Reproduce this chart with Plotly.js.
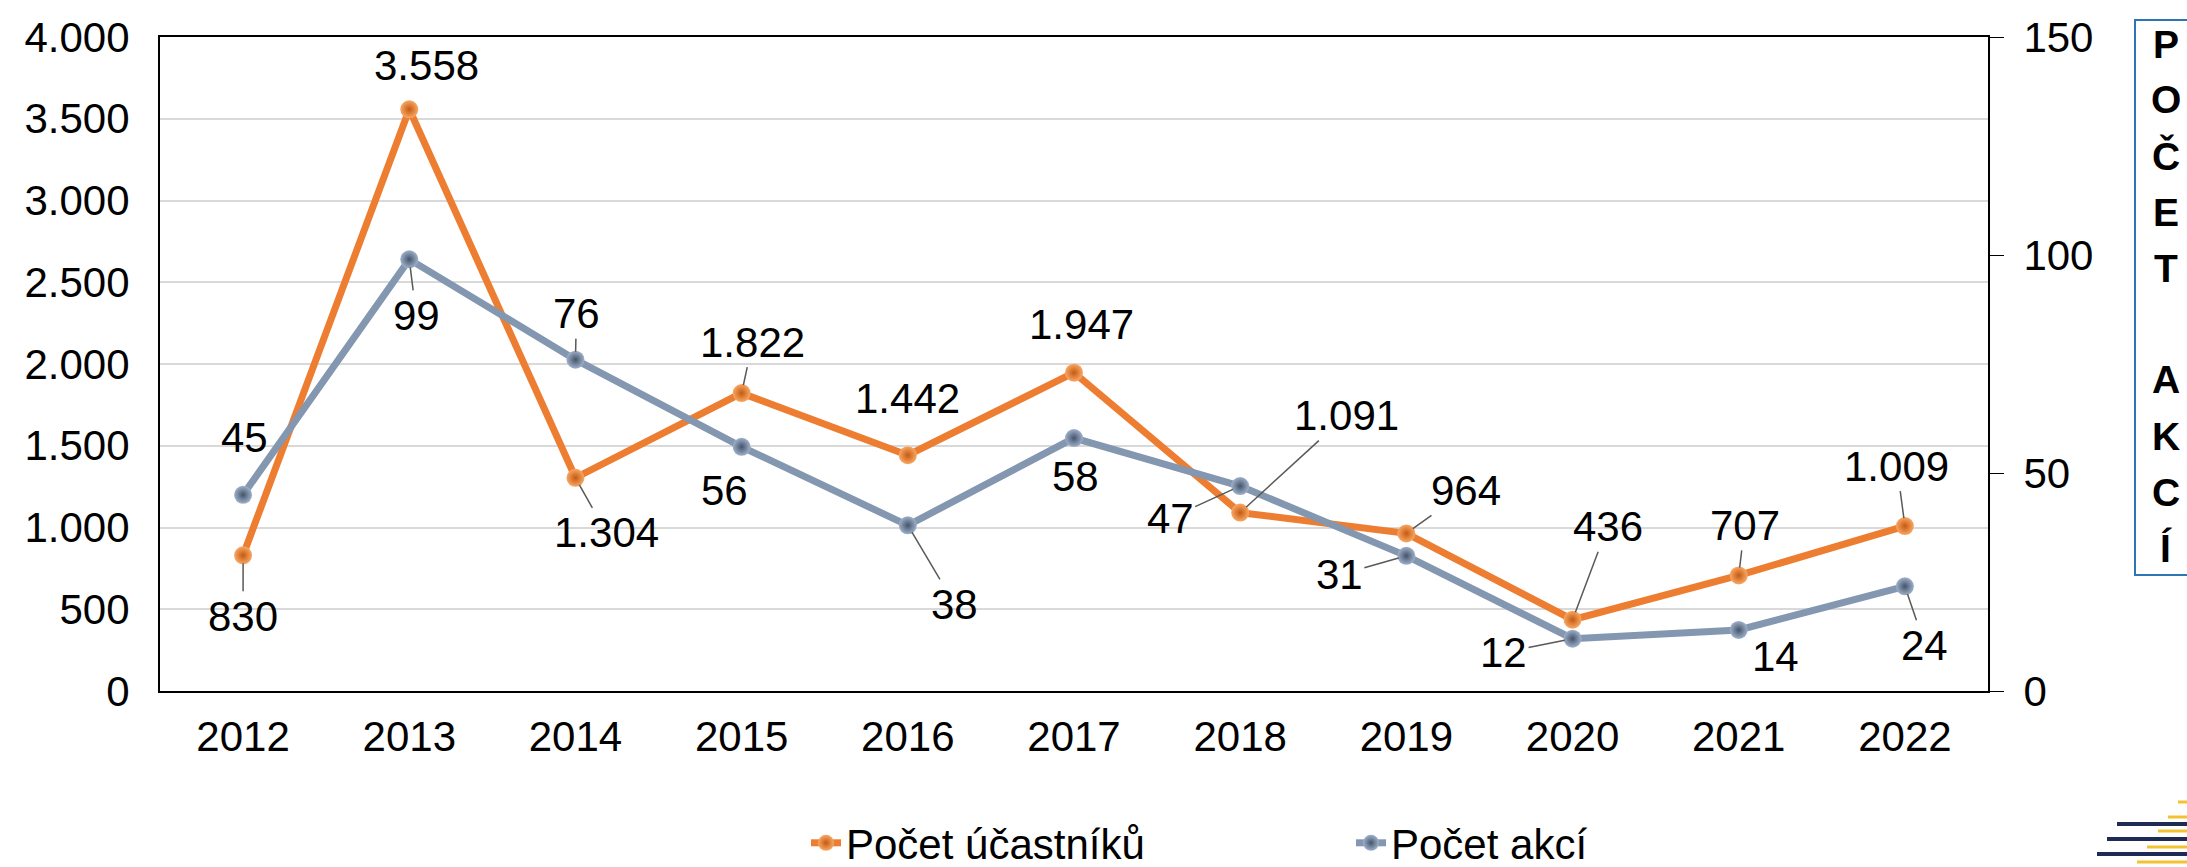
<!DOCTYPE html>
<html>
<head>
<meta charset="utf-8">
<script src="https://cdn.plot.ly/plotly-3.0.1.min.js"></script>
<style>
  html, body { margin: 0; padding: 0; background: #fff; }
  #chart { width: 2187px; height: 867px; }
</style>
</head>
<body>
<div id="chart"></div>
<script>
// data
const years = ['2012', '2013', '2014', '2015', '2016', '2017', '2018', '2019', '2020', '2021', '2022'];
const ucastnici = [830, 3558, 1304, 1822, 1442, 1947, 1091, 964, 436, 707, 1009];
const akce = [45, 99, 76, 56, 38, 58, 47, 31, 12, 14, 24];
const boxLetters = ['P', 'O', 'Č', 'E', 'T', '', 'A', 'K', 'C', 'Í'];

// label offsets (px) from each point, and whether a leader line is drawn
const ucastDx = [0, 17, 31, 11, 0, 7, 106, 60, 35, 6, -8];
const ucastDy = [61, -44, 55, -51, -57, -48, -97, -43, -93, -50, -60];
const ucastLeader = [1, 0, 1, 1, 0, 0, 1, 1, 1, 1, 1];
const akceDx = [1, 7, 1, -17, 47, 1, -70, -67, -69, 37, 20];
const akceDy = [-57, 56, -46, 44, 79, 38, 32, 19, 14, 27, 59];
const akceLeader = [0, 1, 1, 0, 1, 0, 1, 1, 1, 0, 1];

const FONT = 'Liberation Sans, Arial, sans-serif';
const M = {l: 160, r: 199, t: 37, b: 176, autoexpand: false};
const W = 2187, H = 867;
const plotW = W - M.l - M.r, plotH = H - M.t - M.b;
function fx(px){ return (px - M.l) / plotW; }
function fy(py){ return (H - M.b - py) / plotH; }

function fmt(v){
    return v.toString().replace(/\B(?=(\d{3})+(?!\d))/g, '.');
}

const data = [
    {
        x: years, y: ucastnici, name: 'Počet účastníků', type: 'scatter', mode: 'lines+markers',
        line: {color: '#ED7D31', width: 7},
        marker: {size: 18, color: '#F9A865', gradient: {type: 'radial', color: '#C55A11'}}
    },
    {
        x: years, y: akce, name: 'Počet akcí', type: 'scatter', mode: 'lines+markers', yaxis: 'y2',
        line: {color: '#8497B0', width: 7},
        marker: {size: 18, color: '#9FB1CB', gradient: {type: 'radial', color: '#44546A'}}
    }
];

let annotations = [];
function addLabels(vals, yref, dx, dy, leader){
    vals.forEach((v, i) => {
        // category index, a numeric string would be read as an index anyway
        let a = {
            x: i, y: v, xref: 'x', yref: yref, text: fmt(v),
            font: {family: FONT, size: 42, color: '#000'}
        };
        if(leader[i]){
            a.showarrow = true;
            a.arrowhead = 0;
            a.arrowwidth = 1.5;
            a.arrowcolor = '#595959';
            a.standoff = 8;
            a.ax = dx[i];
            a.ay = dy[i];
        }else{
            a.showarrow = false;
            a.xshift = dx[i];
            a.yshift = -dy[i];
        }
        annotations.push(a);
    });
}
addLabels(ucastnici, 'y', ucastDx, ucastDy, ucastLeader);
addLabels(akce, 'y2', akceDx, akceDy, akceLeader);

// vertical "POČET AKCÍ" box on the right
boxLetters.forEach((c, i) => {
    if(!c) return;
    annotations.push({
        x: fx(2166), y: fy(44 + i * 56), xref: 'paper', yref: 'paper',
        xanchor: 'center', yanchor: 'middle',
        text: '<b>' + c + '</b>', showarrow: false,
        font: {family: FONT, size: 39, color: '#000'}
    });
});

let shapes = [{
    type: 'rect', xref: 'paper', yref: 'paper',
    x0: fx(2135), x1: fx(2230), y0: fy(575), y1: fy(20),
    line: {color: '#2E75B6', width: 2}
}];

// corner logo stripes
const stripes = [
    [2178, 802, '#F2C230'], [2168, 817, '#F2C230'], [2117, 824, '#1F2A55'], [2158, 831, '#F2C230'],
    [2107, 839, '#1F2A55'], [2147, 847, '#F2C230'], [2097, 854, '#1F2A55'], [2137, 862, '#F2C230']
];
stripes.forEach(s => {
    shapes.push({
        type: 'line', xref: 'paper', yref: 'paper',
        x0: fx(s[0]), x1: fx(2190), y0: fy(s[1]), y1: fy(s[1]),
        line: {color: s[2], width: s[2] == '#1F2A55' ? 4 : 3}
    });
});

const layout = {
    width: W, height: H,
    margin: M,
    paper_bgcolor: '#fff', plot_bgcolor: '#fff',
    separators: ',.',
    font: {family: FONT, size: 42, color: '#000'},
    showlegend: true,
    legend: {
        orientation: 'h', x: fx(806), xanchor: 'left', y: fy(843), yanchor: 'middle',
        font: {family: FONT, size: 42, color: '#000'},
        entrywidth: 500, entrywidthmode: 'pixels', traceorder: 'normal'
    },
    xaxis: {
        type: 'category', range: [-0.5, years.length - 0.5], autorange: false,
        showgrid: false, showline: true, linecolor: '#000', linewidth: 2,
        mirror: true, ticks: '', ticklabelstandoff: 8,
        tickfont: {family: FONT, size: 42, color: '#000'}
    },
    yaxis: {
        range: [0, 4000], dtick: 500, tickformat: ',d', showgrid: true, gridcolor: '#D9D9D9', gridwidth: 2,
        showline: true, linecolor: '#000', linewidth: 2, ticks: '', ticklabelstandoff: 20, zeroline: false,
        tickfont: {family: FONT, size: 42, color: '#000'}
    },
    yaxis2: {
        range: [0, 150], dtick: 50, overlaying: 'y', side: 'right', showgrid: false, zeroline: false,
        showline: true, linecolor: '#000', linewidth: 2, ticks: 'outside', ticklen: 14, tickwidth: 1,
        tickcolor: '#000', ticklabelstandoff: 11,
        tickfont: {family: FONT, size: 42, color: '#000'}
    },
    annotations: annotations,
    shapes: shapes
};

Plotly.newPlot('chart', data, layout, {staticPlot: true, displayModeBar: false});
</script>
</body>
</html>
